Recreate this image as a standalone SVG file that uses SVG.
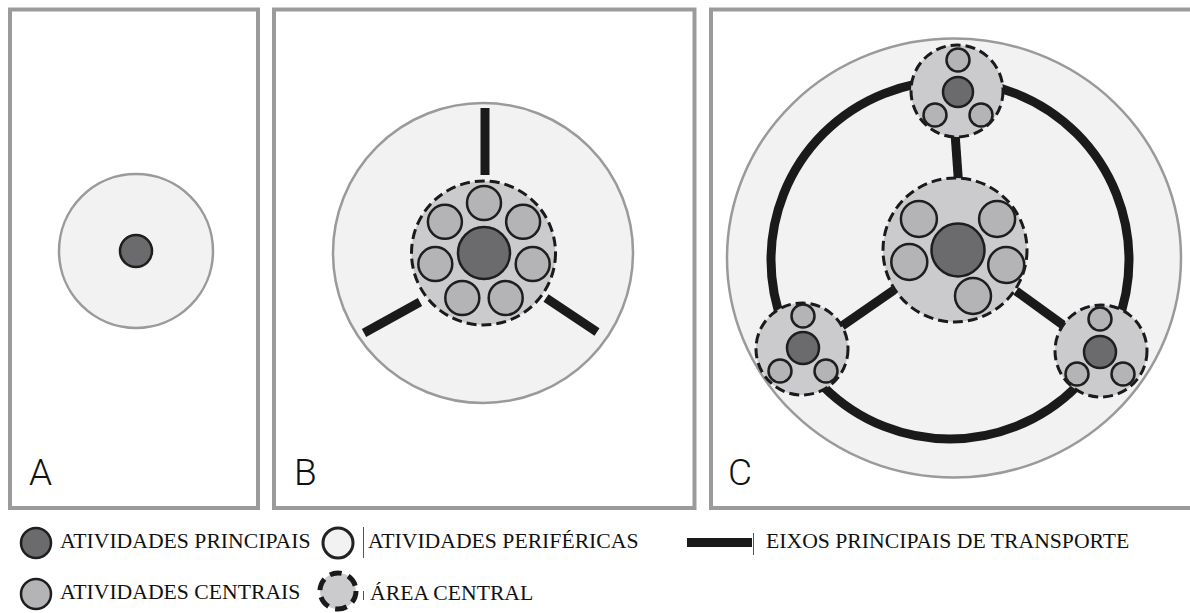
<svg xmlns="http://www.w3.org/2000/svg" width="1190" height="613" viewBox="0 0 1190 613">
<style>
.panel{fill:#fff;stroke:#9b9b9d;stroke-width:4}
.city{fill:#f2f2f2;stroke:#9a9a9a;stroke-width:2.5}
.area{fill:#cbcbcd;stroke:#1a1a1a;stroke-width:3;stroke-dasharray:10 5}
.main{fill:#6b6b6d;stroke:#1e1e1e;stroke-width:2.5}
.cent{fill:#b4b4b6;stroke:#1e1e1e;stroke-width:2.5}
.axis{fill:none;stroke:#1a1a1a;stroke-width:9}
.letter{font-family:Roboto,"Liberation Sans",Arial,sans-serif;font-weight:300;font-size:37px;fill:#111}
.leg{font-family:"Liberation Serif","Times New Roman",serif;font-size:21.7px;fill:#111}
.tick{stroke:#555;stroke-width:1}
</style>

<!-- Panels -->
<g id="panelA">
  <rect class="panel" x="10" y="9.5" width="248" height="498.5"/>
  <circle class="city" cx="136" cy="251" r="77"/>
  <circle class="main" cx="136" cy="251" r="16" stroke-width="3"/>
  <text class="letter" x="29" y="485">A</text>
</g>

<g id="panelB">
  <rect class="panel" x="274" y="9.5" width="420.5" height="498.5"/>
  <circle class="city" cx="483" cy="253" r="150"/>
  <text class="letter" x="294" y="485">B</text>
</g>

<g id="panelC">
  <rect class="panel" x="711" y="9.5" width="485" height="498.5"/>
  <ellipse class="city" cx="954" cy="258" rx="227" ry="219.5"/>
  <text class="letter" x="728" y="485">C</text>
</g>

<!-- Connectors (transport axes) -->
<g id="connectors">
  <line class="axis" x1="485" y1="108" x2="485" y2="175"/>
  <line class="axis" x1="364" y1="333" x2="420" y2="302"/>
  <line class="axis" x1="546" y1="298" x2="597" y2="332"/>
  <circle class="axis" cx="950" cy="260" r="179"/>
  <line class="axis" x1="955" y1="133" x2="958.5" y2="182"/>
  <line class="axis" x1="842" y1="326" x2="894" y2="290"/>
  <line class="axis" x1="1016" y1="291" x2="1063" y2="325"/>
</g>

<!-- B central area -->
<g id="B-central">
  <circle class="area" cx="483.5" cy="253" r="72"/>
  <circle class="cent" cx="484" cy="203" r="17"/>
  <circle class="cent" cx="523.1" cy="221.8" r="17"/>
  <circle class="cent" cx="532.7" cy="264.1" r="17"/>
  <circle class="cent" cx="505.7" cy="298" r="17"/>
  <circle class="cent" cx="462.3" cy="298" r="17"/>
  <circle class="cent" cx="435.3" cy="264.1" r="17"/>
  <circle class="cent" cx="444.9" cy="221.8" r="17"/>
  <circle class="main" cx="484" cy="253" r="26"/>
</g>

<!-- C central area -->
<g id="C-central">
  <circle class="area" cx="955" cy="250" r="72"/>
  <circle class="cent" cx="918.9" cy="219" r="18"/>
  <circle class="cent" cx="997.1" cy="219" r="18"/>
  <circle class="cent" cx="909.3" cy="262" r="18"/>
  <circle class="cent" cx="1006.2" cy="265" r="18"/>
  <circle class="cent" cx="973" cy="296" r="18"/>
  <circle class="main" cx="958" cy="250" r="26.5"/>
</g>

<g id="C-top">
  <circle class="area" cx="957" cy="91" r="46"/>
  <circle class="cent" cx="958" cy="60" r="11.5"/>
  <circle class="cent" cx="935" cy="115" r="11.5"/>
  <circle class="cent" cx="981" cy="115" r="11.5"/>
  <circle class="main" cx="958" cy="92" r="15"/>
</g>

<g id="C-left">
  <circle class="area" cx="802" cy="349" r="46"/>
  <circle class="cent" cx="803" cy="316" r="11.5"/>
  <circle class="cent" cx="780" cy="371" r="11.5"/>
  <circle class="cent" cx="826" cy="371" r="11.5"/>
  <circle class="main" cx="803" cy="348" r="16"/>
</g>

<g id="C-right">
  <circle class="area" cx="1101" cy="351" r="46"/>
  <circle class="cent" cx="1100" cy="319" r="11.5"/>
  <circle class="cent" cx="1077" cy="374" r="11.5"/>
  <circle class="cent" cx="1123" cy="374" r="11.5"/>
  <circle class="main" cx="1100" cy="352" r="16"/>
</g>

<!-- Legend -->
<g id="legend-principais">
  <circle class="main" cx="36" cy="543" r="15" stroke-width="3"/>
  <text class="leg" x="60" y="548">ATIVIDADES PRINCIPAIS</text>
</g>
<g id="legend-perifericas">
  <circle cx="338" cy="543" r="15" fill="#f2f2f2" stroke="#222" stroke-width="3"/>
  <line class="tick" x1="363.5" y1="527" x2="363.5" y2="558"/>
  <text class="leg" x="368" y="548">ATIVIDADES PERIFÉRICAS</text>
</g>
<g id="legend-eixos">
  <rect x="687" y="538" width="65" height="9" fill="#1a1a1a"/>
  <line class="tick" x1="753.5" y1="533" x2="753.5" y2="555"/>
  <text class="leg" x="766" y="548">EIXOS PRINCIPAIS DE TRANSPORTE</text>
</g>
<g id="legend-centrais">
  <circle class="cent" cx="36" cy="594" r="15" stroke-width="3"/>
  <text class="leg" x="60" y="599">ATIVIDADES CENTRAIS</text>
</g>
<g id="legend-area">
  <circle cx="338" cy="591" r="18" fill="#cbcbcd" stroke="#1a1a1a" stroke-width="5" stroke-dasharray="12 7"/>
  <line class="tick" x1="363.5" y1="591" x2="363.5" y2="600"/>
  <text class="leg" x="370" y="600">ÁREA CENTRAL</text>
</g>
</svg>
